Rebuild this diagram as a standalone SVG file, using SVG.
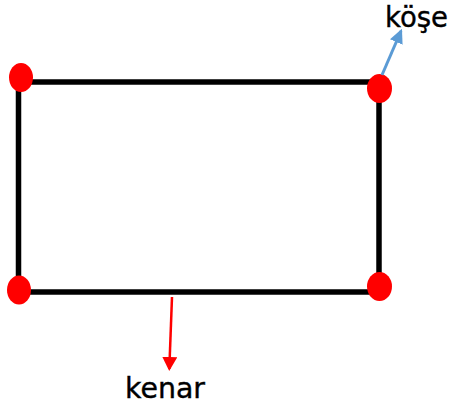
<svg xmlns="http://www.w3.org/2000/svg" width="453" height="407" viewBox="0 0 453 407">
<style>
.edge{stroke:#000;stroke-width:5.5;fill:none}
.dot{fill:#ff0000}
.lbl{font-family:"Comic Sans MS","DejaVu Sans",sans-serif;font-size:29px;fill:#000;stroke:#000;stroke-width:0.4}
</style>
<defs>
<marker id="ab" markerWidth="4.8" markerHeight="4.6" refX="4" refY="2.3" orient="auto" markerUnits="strokeWidth"><path d="M0,0 L4.8,2.3 L0,4.6 z" fill="#5b9bd5"/></marker>
<marker id="ar" markerWidth="5.6" markerHeight="6" refX="4.8" refY="3" orient="auto" markerUnits="strokeWidth"><path d="M0,0 L5.6,3 L0,6 z" fill="#ff0000"/></marker>
</defs>
<rect width="453" height="407" fill="#fff"/>
<g id="rectangle">
<line class="edge" x1="18.5" y1="82" x2="379" y2="82"/>
<line class="edge" x1="18.5" y1="79" x2="18.5" y2="292"/>
<line class="edge" x1="18.5" y1="292" x2="379" y2="292"/>
<line class="edge" x1="379" y1="82" x2="379" y2="292"/>
</g>
<g id="corners">
<ellipse class="dot" cx="21" cy="77.5" rx="12" ry="14.5"/>
<ellipse class="dot" cx="379.5" cy="88.5" rx="12.5" ry="14.5"/>
<ellipse class="dot" cx="19" cy="290" rx="12" ry="14.5"/>
<ellipse class="dot" cx="379.5" cy="286.5" rx="12.5" ry="14.5"/>
</g>
<g id="connectors">
<line x1="382" y1="75" x2="401" y2="31" stroke="#5b9bd5" stroke-width="3" marker-end="url(#ab)"/>
<line x1="172" y1="297" x2="169.3" y2="369" stroke="#ff0000" stroke-width="2.5" marker-end="url(#ar)"/>
</g>
<g id="label-kose">
<text class="lbl" x="385" y="27" textLength="63" lengthAdjust="spacingAndGlyphs">köşe</text>
</g>
<g id="label-kenar">
<text class="lbl" x="125" y="398" textLength="80" lengthAdjust="spacingAndGlyphs">kenar</text>
</g>
</svg>
